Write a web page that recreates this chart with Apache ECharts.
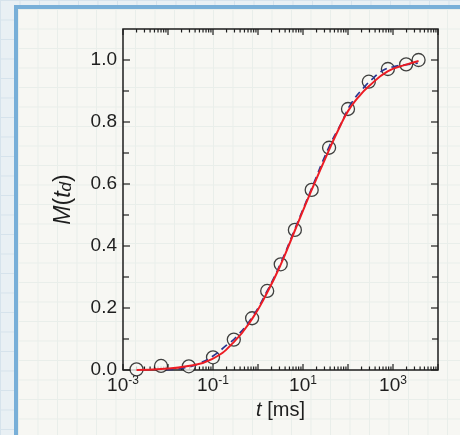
<!DOCTYPE html>
<html>
<head>
<meta charset="utf-8">
<script src="https://cdn.jsdelivr.net/npm/echarts@6/dist/echarts.min.js"></script>
<style>
  html, body { margin: 0; padding: 0; }
  body {
    width: 460px; height: 435px; overflow: hidden; position: relative;
    background-color: #e9f0f4;
    background-image:
      linear-gradient(#d6e3ec 1px, transparent 1px),
      linear-gradient(90deg, #d6e3ec 1px, transparent 1px);
    background-size: 19.5px 19.5px;
  }
  #panel {
    position: absolute; left: 14px; top: 5px; width: 470px; height: 450px;
    border-left: 4px solid #78afd8; border-top: 4px solid #78afd8;
    background-color: #f7f7f3;
    background-image:
      linear-gradient(#e9eeea 1px, transparent 1px),
      linear-gradient(90deg, #e9eeea 1px, transparent 1px);
    background-size: 19.5px 19.5px;
  }
  #chart { position: absolute; left: 0; top: 0; width: 460px; height: 435px; }
</style>
</head>
<body>
<div id="panel"></div>
<div id="chart"></div>
<script>
// Measured data (circles): t in ms, M(t_d)
const dataT = [0.002, 0.007, 0.029, 0.1, 0.29, 0.74, 1.6, 3.2, 6.6, 15.6, 38, 100, 290, 770, 1960, 3700];
const dataM = [0.002, 0.013, 0.012, 0.041, 0.098, 0.167, 0.255, 0.341, 0.452, 0.581, 0.717, 0.842, 0.930, 0.971, 0.986, 1.0];

// Red solid fit curve
const redT = [0.002, 0.007, 0.028, 0.095, 0.29, 0.74, 1.6, 3.2, 6.6, 15.5, 38, 65, 100, 170, 290, 760, 1950, 3700];
const redM = [0.0, 0.003, 0.013, 0.035, 0.09, 0.165, 0.25, 0.34, 0.45, 0.58, 0.71, 0.783, 0.835, 0.88, 0.915, 0.963, 0.985, 0.997];

// Blue dashed fit curve
const blueT = [0.0093, 0.025, 0.051, 0.1, 0.2, 0.32, 0.74, 1.6, 3.2, 6.6, 15.5, 38, 71, 118, 234, 360, 590, 1000, 2000, 3550];
const blueM = [0.0, 0.008, 0.022, 0.045, 0.08, 0.105, 0.17, 0.255, 0.345, 0.455, 0.585, 0.72, 0.796, 0.86, 0.914, 0.941, 0.966, 0.978, 0.985, 0.99];

// Axis ticks
const xMajorTicks = [1e-3, 1e-2, 1e-1, 1, 10, 100, 1000, 10000];
const xMinorTicks = [];
for (const d of [1e-3, 1e-2, 1e-1, 1, 10, 100, 1000]) for (const m of [2,3,4,5,6,7,8,9]) xMinorTicks.push(d * m);
const yMajorTicks = [0, 0.2, 0.4, 0.6, 0.8, 1.0];
const yMinorTicks = [0.1, 0.3, 0.5, 0.7, 0.9];

const ink = '#1e1e1e';
const chart = echarts.init(document.getElementById('chart'), null, { renderer: 'canvas' });

function tickSeries(values, axis, len) {
  return {
    type: 'custom',
    silent: true,
    z: 1,
    clip: false,
    data: values.map(v => axis === 'x' ? [v, 0.5] : [1, v]),
    renderItem: function (params, api) {
      const cs = params.coordSys;
      const p = api.coord([api.value(0), api.value(1)]);
      const st = { stroke: ink, lineWidth: 1.2 };
      if (axis === 'x') {
        const yb = cs.y + cs.height, yt = cs.y;
        return { type: 'group', children: [
          { type: 'line', shape: { x1: p[0], y1: yb, x2: p[0], y2: yb - len }, style: st },
          { type: 'line', shape: { x1: p[0], y1: yt, x2: p[0], y2: yt + len }, style: st }
        ]};
      } else {
        const xl = cs.x, xr = cs.x + cs.width;
        return { type: 'group', children: [
          { type: 'line', shape: { x1: xl, y1: p[1], x2: xl + len, y2: p[1] }, style: st },
          { type: 'line', shape: { x1: xr, y1: p[1], x2: xr - len, y2: p[1] }, style: st }
        ]};
      }
    }
  };
}

const option = {
  animation: false,
  backgroundColor: 'transparent',
  grid: {
    left: 123, right: 22, top: 29, bottom: 65,
    show: true, borderColor: ink, borderWidth: 1.5, backgroundColor: 'transparent'
  },
  xAxis: {
    type: 'log', logBase: 10, min: 0.001, max: 10000, splitNumber: 7,
    axisLine: { show: false }, axisTick: { show: false }, splitLine: { show: false },
    axisLabel: {
      margin: 5, color: ink, fontFamily: 'Liberation Sans', fontSize: 19,
      formatter: function (v) {
        const e = Math.round(Math.log10(v));
        if (Math.abs(e % 2) !== 1) return '';
        return '{b|10}{s|' + e + '}';
      },
      rich: {
        b: { fontSize: 19, fontFamily: 'Liberation Sans', color: ink, lineHeight: 22 },
        s: { fontSize: 12, fontFamily: 'Liberation Sans', color: ink, verticalAlign: 'top', lineHeight: 14 }
      }
    },
    name: '{i|t} [ms]', nameLocation: 'middle', nameGap: 29,
    nameTextStyle: {
      color: ink, fontFamily: 'Liberation Sans', fontSize: 20,
      rich: { i: { fontStyle: 'italic', fontSize: 20, fontFamily: 'Liberation Sans', color: ink } }
    }
  },
  yAxis: {
    type: 'value', min: 0, max: 1.1, interval: 0.2,
    axisLine: { show: false }, axisTick: { show: false }, splitLine: { show: false },
    axisLabel: {
      margin: 6, color: ink, fontFamily: 'Liberation Sans', fontSize: 19,
      formatter: function (v) { return v > 1.05 ? '' : v.toFixed(1); }
    },
    name: '{i|M}({i|t}{s|d})', nameLocation: 'middle', nameGap: 48, nameRotate: 90,
    nameTextStyle: {
      color: ink, fontFamily: 'Liberation Sans', fontSize: 23,
      rich: {
        i: { fontStyle: 'italic', fontSize: 23, fontFamily: 'Liberation Sans', color: ink },
        s: { fontStyle: 'italic', fontSize: 17, fontFamily: 'Liberation Sans', color: ink, verticalAlign: 'bottom' }
      }
    }
  },
  series: [
    tickSeries(xMajorTicks, 'x', 6),
    tickSeries(xMinorTicks, 'x', 3.5),
    tickSeries(yMajorTicks, 'y', 7),
    tickSeries(yMinorTicks, 'y', 6),
    {
      type: 'scatter', z: 2,
      data: dataT.map((t, i) => [t, dataM[i]]),
      symbol: 'circle', symbolSize: 13,
      itemStyle: { color: '#f8f8f4', borderColor: '#111', borderWidth: 1.3 }
    },
    {
      type: 'line', z: 3, smooth: true, showSymbol: false, symbol: 'none',
      data: blueT.map((t, i) => [t, blueM[i]]),
      lineStyle: { color: '#29348f', width: 1.7, type: [7, 5] }
    },
    {
      type: 'line', z: 4, smooth: true, showSymbol: false, symbol: 'none',
      data: redT.map((t, i) => [t, redM[i]]),
      lineStyle: { color: '#ec1c24', width: 2 }
    }
  ]
};
chart.setOption(option);
</script>
</body>
</html>
